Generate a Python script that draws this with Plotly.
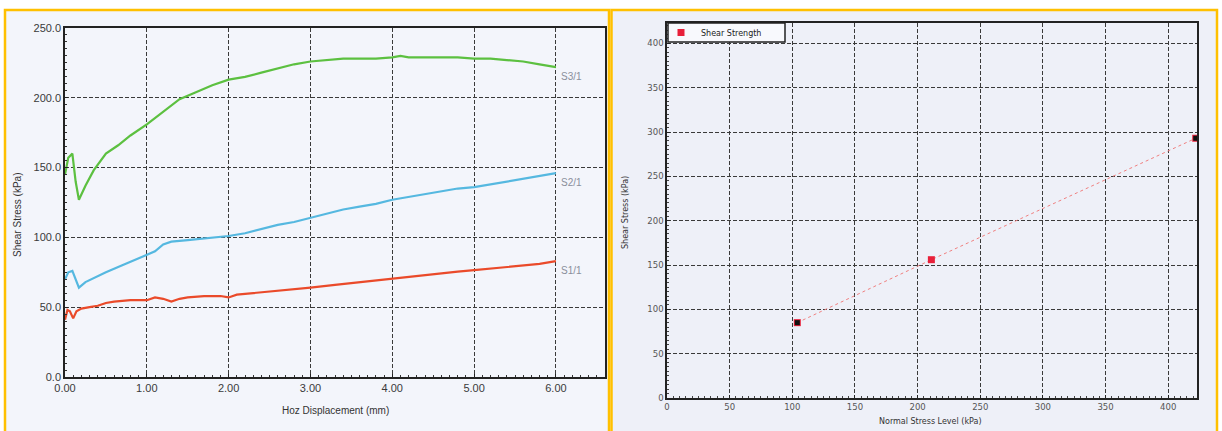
import plotly.graph_objects as go

# ---------------- Data ----------------
# Left chart: shear stress vs horizontal displacement
s3_x = [0, 0.04, 0.09, 0.13, 0.17, 0.25, 0.35, 0.5, 0.65, 0.8, 1.0, 1.2, 1.4, 1.6, 1.8, 2.0,
        2.2, 2.4, 2.6, 2.8, 3.0, 3.2, 3.4, 3.6, 3.8, 4.0, 4.1, 4.2, 4.4, 4.6, 4.8, 5.0,
        5.2, 5.4, 5.6, 5.8, 6.0]
s3_y = [145, 157, 160, 140, 127, 137, 148, 160, 166, 173, 181, 190, 199, 204, 209, 213,
        215, 218, 221, 224, 226, 227, 228, 228, 228, 229, 230, 229, 229, 229, 229, 228,
        228, 227, 226, 224, 222]

s2_x = [0, 0.04, 0.09, 0.13, 0.17, 0.25, 0.35, 0.5, 0.7, 0.9, 1.0, 1.1, 1.2, 1.3, 1.5, 1.7,
        1.9, 2.0, 2.2, 2.4, 2.6, 2.8, 3.0, 3.2, 3.4, 3.6, 3.8, 4.0, 4.2, 4.4, 4.6, 4.8,
        5.0, 5.2, 5.4, 5.6, 5.8, 6.0]
s2_y = [70, 75, 76, 70, 64, 68, 71, 75, 80, 85, 87, 90, 95, 97, 98, 99,
        100, 101, 103, 106, 109, 111, 114, 117, 120, 122, 124, 127, 129, 131, 133, 135,
        136, 138, 140, 142, 144, 146]

s1_x = [0, 0.03, 0.06, 0.1, 0.14, 0.2, 0.3, 0.4, 0.5, 0.6, 0.8, 1.0, 1.1, 1.2, 1.3, 1.4,
        1.5, 1.7, 1.9, 2.0, 2.1, 2.3, 2.5, 2.7, 3.0, 3.3, 3.6, 3.9, 4.2, 4.5, 4.8, 5.0,
        5.3, 5.6, 5.8, 6.0]
s1_y = [41, 48, 47, 42, 47, 49, 50, 51, 53, 54, 55, 55, 57, 56, 54, 56,
        57, 58, 58, 57, 59, 60, 61, 62, 64, 66, 68, 70, 72, 74, 75.5, 76.5,
        78, 80, 81, 83]

series_names = ["S3/1", "S2/1", "S1/1"]

# Right chart: shear strength vs normal stress
normal_stress = [104, 211, 422]
shear_strength = [85, 156, 293]
legend_name = "Shear Strength"

left_xticks = [0, 1, 2, 3, 4, 5, 6]
left_yticks = [0, 50, 100, 150, 200, 250]
right_ticks = [0, 50, 100, 150, 200, 250, 300, 350, 400]

# ---------------- Figure ----------------
W, H = 1222, 431
def px(x):
    return x / W
def py(y):
    return 1 - y / H

fig = go.Figure()

colors = ["#5cc040", "#55b8e0", "#ea4a2a"]
for xs, ys, name, c in zip([s3_x, s2_x, s1_x], [s3_y, s2_y, s1_y], series_names, colors):
    fig.add_trace(go.Scatter(x=xs, y=ys, mode="lines", name=name,
                             line=dict(color=c, width=2.2), showlegend=False,
                             xaxis="x", yaxis="y"))
    fig.add_annotation(x=xs[-1], y=ys[-1], xref="x", yref="y", text=name,
                       showarrow=False, xanchor="left", yanchor="top", xshift=3, yshift=-2,
                       font=dict(family="Liberation Sans Narrow, Liberation Sans", size=10,
                                 color="#8a8f9c"))

# right chart
fig.add_trace(go.Scatter(x=normal_stress, y=shear_strength, mode="lines",
                         line=dict(color="#f08080", width=1, dash="dot"),
                         showlegend=False, xaxis="x2", yaxis="y2"))
fig.add_trace(go.Scatter(x=normal_stress, y=shear_strength, mode="markers", name=legend_name,
                         marker=dict(color="#e8203a", size=7, symbol="square"),
                         showlegend=True, xaxis="x2", yaxis="y2"))
fig.add_trace(go.Scatter(x=[normal_stress[0], normal_stress[2]],
                         y=[shear_strength[0], shear_strength[2]], mode="markers",
                         marker=dict(color="#111111", size=5, symbol="square"),
                         showlegend=False, xaxis="x2", yaxis="y2"))

tickfont_l = dict(family="Liberation Sans Narrow, Liberation Sans", size=11, color="#3a3a3a")
tickfont_r = dict(family="DejaVu Sans", size=8.5, color="#555555")

common = dict(showline=True, linecolor="#222222", linewidth=1.5, mirror=True,
              showgrid=True, gridcolor="#3a3a3a", gridwidth=1, griddash="4px,2px",
              zeroline=False, ticks="inside", ticklen=3, tickcolor="#222222",
              automargin=False)

fig.update_layout(
    width=W, height=H,
    margin=dict(l=0, r=0, t=0, b=0),
    paper_bgcolor="white",
    plot_bgcolor="#f4f6fc",
    xaxis=dict(domain=[px(65), px(605)], range=[0, 6.6], tickvals=left_xticks,
               tickformat=".2f", tickfont=tickfont_l, anchor="y",
               minor=dict(dtick=0.1, ticks="inside", ticklen=2, tickcolor="#333333", showgrid=False),
               **common),
    yaxis=dict(domain=[py(377), py(28)], range=[0, 250], tickvals=left_yticks,
               tickformat=".1f", tickfont=tickfont_l, anchor="x",
               minor=dict(dtick=5, ticks="inside", ticklen=2, tickcolor="#333333", showgrid=False),
               **common),
    xaxis2=dict(domain=[px(667), px(1197)], range=[0, 423], tickvals=right_ticks,
                tickfont=tickfont_r, anchor="y2",
                minor=dict(dtick=5, ticks="inside", ticklen=2, tickcolor="#444444", showgrid=False),
                **common),
    yaxis2=dict(domain=[py(398), py(23)], range=[0, 423], tickvals=right_ticks,
                tickfont=tickfont_r, anchor="x2",
                minor=dict(dtick=5, ticks="inside", ticklen=2, tickcolor="#444444", showgrid=False),
                **common),
    legend=dict(x=px(661), y=py(32.5), xanchor="left", yanchor="middle",
                bgcolor="rgba(0,0,0,0)", borderwidth=0,
                font=dict(family="DejaVu Sans", size=8, color="#222222"),
                itemwidth=30, tracegroupgap=0),
    shapes=[
        # panel backgrounds
        dict(type="rect", xref="paper", yref="paper", x0=px(6), x1=px(608), y0=0, y1=py(11),
             fillcolor="#f3f5fb", line=dict(width=0), layer="below"),
        dict(type="rect", xref="paper", yref="paper", x0=px(612), x1=px(1216), y0=0, y1=py(11),
             fillcolor="#eef0f8", line=dict(width=0), layer="below"),
        # legend box
        dict(type="rect", xref="paper", yref="paper", x0=px(668), x1=px(785), y0=py(42), y1=py(23),
             fillcolor="#f8f9fd", line=dict(color="#222222", width=1.5), layer="above"),
        # yellow borders
        dict(type="rect", xref="paper", yref="paper", x0=px(5), x1=px(609), y0=-0.02, y1=py(10),
             fillcolor="rgba(0,0,0,0)", line=dict(color="#ffc000", width=2.5)),
        dict(type="rect", xref="paper", yref="paper", x0=px(611.5), x1=px(1217), y0=-0.02, y1=py(10),
             fillcolor="rgba(0,0,0,0)", line=dict(color="#ffc000", width=2.5)),
    ],
)

# axis titles as annotations
title_l = dict(family="Liberation Sans Narrow, Liberation Sans", size=10, color="#333333")
title_r = dict(family="DejaVu Sans", size=8, color="#333333")
ann = dict(xref="paper", yref="paper", showarrow=False, xanchor="center", yanchor="middle")
fig.add_annotation(x=px(335), y=py(410), text="Hoz Displacement (mm)", font=title_l, **ann)
fig.add_annotation(x=px(17), y=py(215), text="Shear Stress (kPa)", textangle=-90, font=title_l, **ann)
fig.add_annotation(x=px(930), y=py(421), text="Normal Stress Level (kPa)", font=title_r, **ann)
fig.add_annotation(x=px(625), y=py(213), text="Shear Stress (kPa)", textangle=-90, font=title_r, **ann)

fig.write_html("out.html")
